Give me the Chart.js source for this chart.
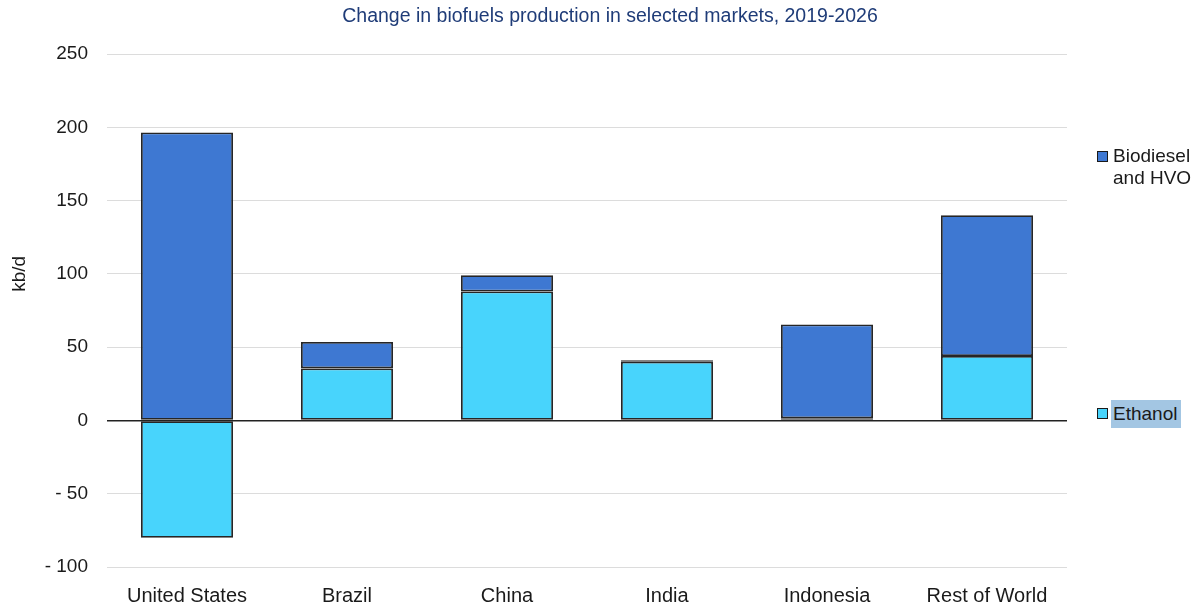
<!DOCTYPE html>
<html>
<head>
<title>Change in biofuels production</title>
<script src="https://cdn.jsdelivr.net/npm/chart.js@4.4.0/dist/chart.umd.min.js"></script>
<style>
body { margin:0; background:#fff; font-family: "Liberation Sans", Arial, sans-serif; }
#wrap { position:relative; width:1200px; height:607px; }
.leg { position:absolute; font-size:19px; color:#1a1a1a; line-height:22px; }
.box { position:absolute; width:9px; height:9px; border:1px solid #1a1a1a; }
</style>
</head>
<body>
<div id="wrap">
<canvas id="myChart" width="1200" height="607"></canvas>
<div class="box" style="left:1097px; top:151px; background:#3e78d2;"></div>
<div class="leg" style="left:1113px; top:145px;">Biodiesel<br>and HVO</div>
<div class="box" style="left:1097px; top:408px; background:#48d4fc;"></div>
<div class="leg" style="left:1111px; top:400px; height:28px; line-height:28px; background:#a3c6e3; padding:0 4px 0 2px;">Ethanol</div>
</div>
<script>
var categories = ['United States', 'Brazil', 'China', 'India', 'Indonesia', 'Rest of World'];
var ethanol = [-80, 35.5, 88, 40, 1.5, 44];
var biodiesel = [196.5, 18, 11, 1, 64, 96];
var yTicks = [-100, -50, 0, 50, 100, 150, 200, 250];

var titlePlugin = {
  id: 'extraText',
  afterDraw: function(chart) {
    var c = chart.ctx;
    c.save();
    c.fillStyle = '#1f3c78';
    c.font = '19.5px "Liberation Sans", Arial';
    c.textAlign = 'center';
    c.textBaseline = 'middle';
    c.fillText('Change in biofuels production in selected markets, 2019-2026', 610, 17);
    var y = chart.scales.y.getPixelForValue(100);
    c.translate(20, y);
    c.rotate(-Math.PI / 2);
    c.fillStyle = '#1a1a1a';
    c.font = '19px "Liberation Sans", Arial';
    c.fillText('kb/d', 0, 0);
    c.restore();
  }
};

var ctx = document.getElementById('myChart').getContext('2d');
var chart = new Chart(ctx, {
  type: 'bar',
  data: {
    labels: categories,
    datasets: [
      {
        label: 'Ethanol',
        data: ethanol,
        backgroundColor: '#48d4fc',
        borderColor: '#262626',
        borderWidth: 1.8,
        borderSkipped: false,
        categoryPercentage: 1,
        barPercentage: 0.575
      },
      {
        label: 'Biodiesel and HVO',
        data: biodiesel,
        backgroundColor: '#3e78d2',
        borderColor: '#262626',
        borderWidth: 1.8,
        borderSkipped: false,
        categoryPercentage: 1,
        barPercentage: 0.575
      }
    ]
  },
  options: {
    responsive: false,
    animation: false,
    layout: { padding: { top: 54, right: 133, left: 0, bottom: 0 } },
    plugins: { legend: { display: false }, title: { display: false }, tooltip: { enabled: false } },
    scales: {
      x: {
        stacked: true,
        grid: { display: false, drawTicks: false },
        border: { display: false },
        ticks: { color: '#1a1a1a', font: { size: 20, family: '"Liberation Sans", Arial' }, padding: 17, maxRotation: 0 },
        afterFit: function(s) { s.height = 40; }
      },
      y: {
        stacked: true,
        min: -100,
        max: 250,
        afterBuildTicks: function(s) { s.ticks = yTicks.map(function(v) { return { value: v }; }); },
        grid: {
          drawTicks: false,
          color: function(c) { return c.tick && c.tick.value === 0 ? '#222' : '#dcdcdc'; },
          lineWidth: function(c) { return c.tick && c.tick.value === 0 ? 1.5 : 1; }
        },
        border: { display: false },
        ticks: {
          color: '#1a1a1a',
          font: { size: 19, family: '"Liberation Sans", Arial' },
          padding: 19,
          callback: function(v) { return v < 0 ? '- ' + Math.abs(v) : String(v); }
        },
        afterFit: function(s) { s.width = 107; }
      }
    }
  },
  plugins: [titlePlugin]
});
</script>
</body>
</html>
